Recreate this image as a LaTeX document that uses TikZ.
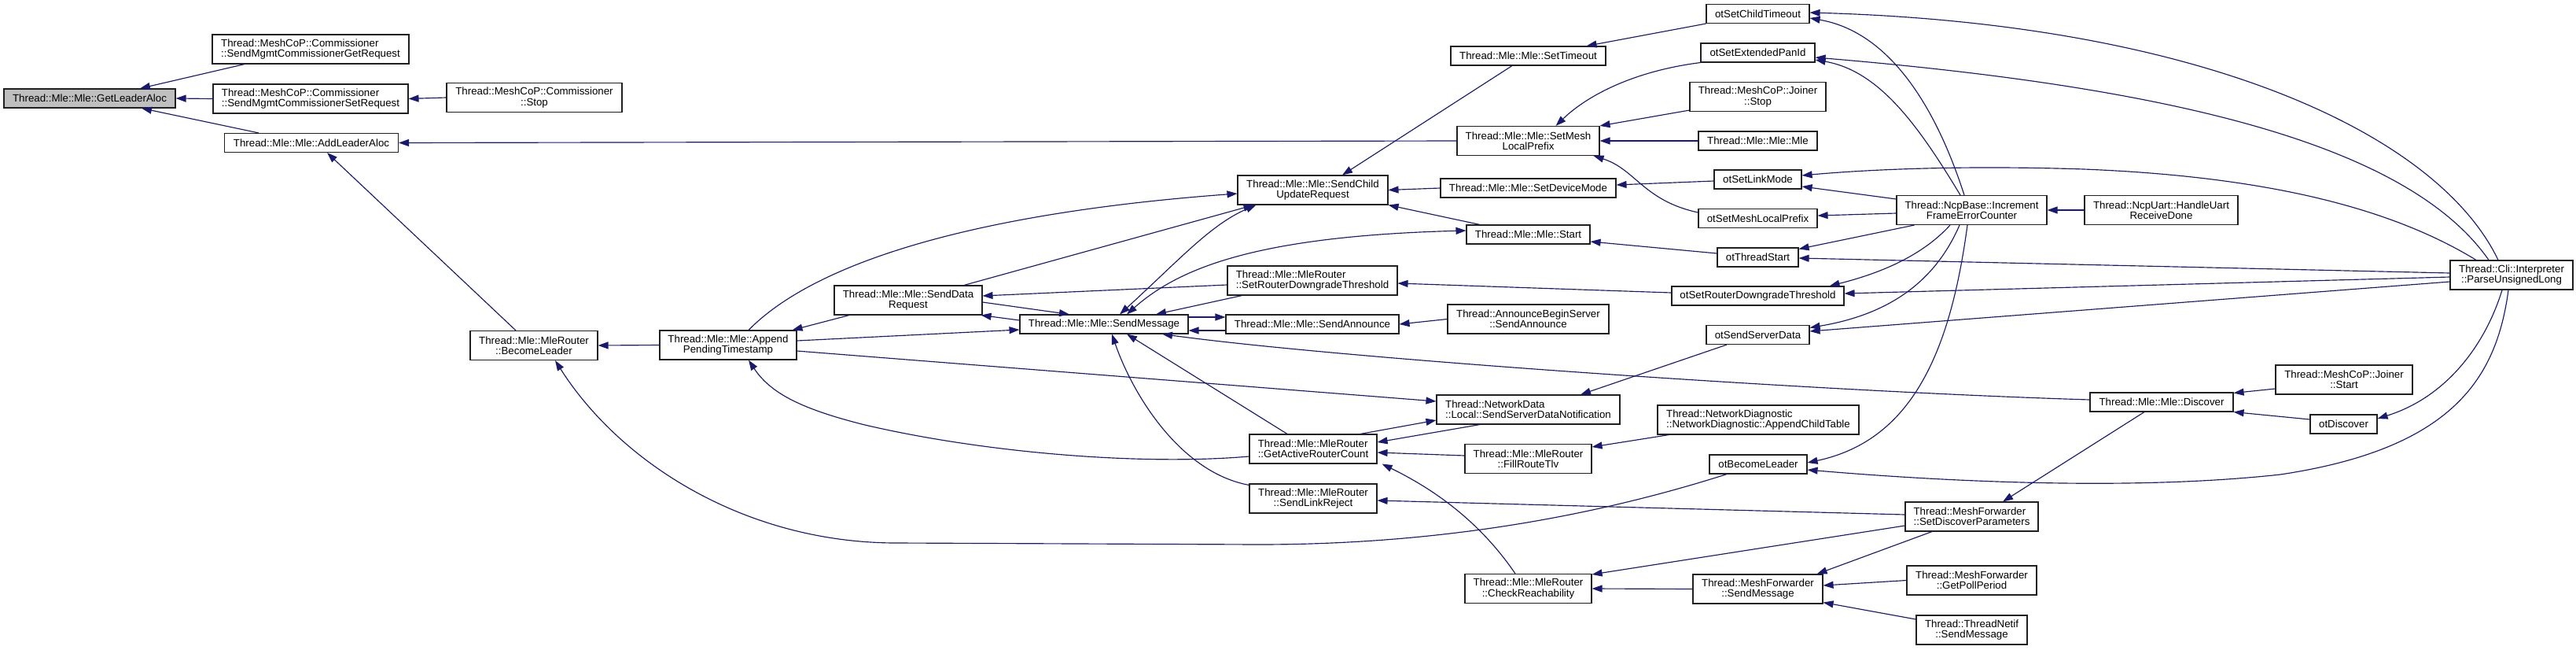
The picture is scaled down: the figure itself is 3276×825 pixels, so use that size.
\documentclass[tikz,border=0pt]{standalone}
\usepackage{fontspec}
\setmainfont{Liberation Sans}
\usetikzlibrary{arrows.meta}
\definecolor{edgeblue}{HTML}{191970}
\definecolor{hl}{HTML}{BFBFBF}
\definecolor{bord}{HTML}{202020}
\begin{document}
\begin{tikzpicture}[x=1pt,y=-1pt,
  box/.style={draw=bord, line width=1.1pt, fill=white, inner sep=0pt, align=center,
    font=\fontsize{13.3}{13.3}\selectfont, minimum height=24pt},
  tall/.style={minimum height=37pt},
  lft/.style={align=left},
  e/.style={draw=edgeblue, line width=1.15pt, -{Triangle[length=13pt,width=9pt]}},
  ee/.style={draw=edgeblue, line width=1.15pt, {Triangle[length=13pt,width=9pt]}-{Triangle[length=13pt,width=9pt]}}]
\fill[white] (0,0) rectangle (3276,825);
\useasboundingbox (0,0) rectangle (3276,825);

% ---- nodes ----
\node[box, fill=hl, minimum width=218pt] (n01) at (114,125) {Thread::Mle::Mle::GetLeaderAloc};
\node[box, tall, lft, minimum width=250pt] (n02) at (395,62.5) {Thread::MeshCoP::Commissioner\\::SendMgmtCommissionerGetRequest};
\node[box, tall, lft, minimum width=248pt] (n03) at (395,125.5) {Thread::MeshCoP::Commissioner\\::SendMgmtCommissionerSetRequest};
\node[box, tall, minimum width=223pt] (n04) at (679.5,124) {Thread::MeshCoP::Commissioner\\::Stop};
\node[box, minimum width=221pt] (n05) at (396,181.5) {Thread::Mle::Mle::AddLeaderAloc};
\node[box, tall, minimum width=162pt] (n06) at (679,439) {Thread::Mle::MleRouter\\::BecomeLeader};
\node[box, tall, minimum width=174pt] (n07) at (926,438.5) {Thread::Mle::Mle::Append\\PendingTimestamp};
\node[box, tall, minimum width=188pt] (n08) at (1155,381.5) {Thread::Mle::Mle::SendData\\Request};
\node[box, minimum width=214pt] (n09) at (1404,412) {Thread::Mle::Mle::SendMessage};
\node[box, tall, minimum width=191pt] (n10) at (1669.5,241.5) {Thread::Mle::Mle::SendChild\\UpdateRequest};
\node[box, tall, lft, minimum width=216pt] (n11) at (1669,356.5) {Thread::Mle::MleRouter\\::SetRouterDowngradeThreshold};
\node[box, minimum width=220pt] (n12) at (1669,412) {Thread::Mle::Mle::SendAnnounce};
\node[box, tall, lft, minimum width=162pt] (n13) at (1670,570.5) {Thread::Mle::MleRouter\\::GetActiveRouterCount};
\node[box, tall, minimum width=162pt] (n14) at (1670,633.5) {Thread::Mle::MleRouter\\::SendLinkReject};
\node[box, minimum width=197pt] (n15) at (1943.5,71) {Thread::Mle::Mle::SetTimeout};
\node[box, tall, minimum width=181pt] (n16) at (1943.5,179) {Thread::Mle::Mle::SetMesh\\LocalPrefix};
\node[box, minimum width=223pt] (n17) at (1943.5,239) {Thread::Mle::Mle::SetDeviceMode};
\node[box, minimum width=157pt] (n18) at (1943.5,298) {Thread::Mle::Mle::Start};
\node[box, tall, minimum width=205pt] (n19) at (1943.5,405.5) {Thread::AnnounceBeginServer\\::SendAnnounce};
\node[box, tall, lft, minimum width=233pt] (n20) at (1943.5,520.5) {Thread::NetworkData\\::Local::SendServerDataNotification};
\node[box, tall, minimum width=161pt] (n21) at (1943.5,583) {Thread::Mle::MleRouter\\::FillRouteTlv};
\node[box, tall, minimum width=161pt] (n22) at (1943.5,748) {Thread::Mle::MleRouter\\::CheckReachability};
\node[box, minimum width=131pt] (n23) at (2235.5,17.5) {otSetChildTimeout};
\node[box, minimum width=145pt] (n24) at (2235.5,67) {otSetExtendedPanId};
\node[box, tall, minimum width=173pt] (n25) at (2235.5,123) {Thread::MeshCoP::Joiner\\::Stop};
\node[box, minimum width=151pt] (n26) at (2235.5,179) {Thread::Mle::Mle::Mle};
\node[box, minimum width=111pt] (n27) at (2235.5,228) {otSetLinkMode};
\node[box, minimum width=151pt] (n28) at (2235.5,277.5) {otSetMeshLocalPrefix};
\node[box, minimum width=103pt] (n29) at (2235.5,327) {otThreadStart};
\node[box, minimum width=219pt] (n30) at (2235.5,376) {otSetRouterDowngradeThreshold};
\node[box, minimum width=131pt] (n31) at (2235.5,425.5) {otSendServerData};
\node[box, tall, lft, minimum width=256pt] (n32) at (2236,533.5) {Thread::NetworkDiagnostic\\::NetworkDiagnostic::AppendChildTable};
\node[box, minimum width=124pt] (n33) at (2236,590) {otBecomeLeader};
\node[box, tall, minimum width=165pt] (n34) at (2235.5,748.5) {Thread::MeshForwarder\\::SendMessage};
\node[box, tall, minimum width=191pt] (n35) at (2507.5,267) {Thread::NcpBase::Increment\\FrameErrorCounter};
\node[box, tall, minimum width=195pt] (n36) at (2748.5,267) {Thread::NcpUart::HandleUart\\ReceiveDone};
\node[box, minimum width=182pt] (n37) at (2749,511) {Thread::Mle::Mle::Discover};
\node[box, tall, lft, minimum width=169pt] (n38) at (2507.5,656.5) {Thread::MeshForwarder\\::SetDiscoverParameters};
\node[box, tall, minimum width=165pt] (n39) at (2507.5,737.5) {Thread::MeshForwarder\\::GetPollPeriod};
\node[box, tall, minimum width=141pt] (n40) at (2507.5,800.5) {Thread::ThreadNetif\\::SendMessage};
\node[box, tall, minimum width=174pt] (n41) at (2981,482.5) {Thread::MeshCoP::Joiner\\::Start};
\node[box, minimum width=85pt] (n42) at (2980.5,539) {otDiscover};
\node[box, tall, minimum width=156pt] (n43) at (3194,349.5) {Thread::Cli::Interpreter\\::ParseUnsignedLong};

% ---- edges: left part ----
\draw[e] ([xshift=-84pt]n02.south) -- ([xshift=64pt]n01.north);
\draw[e] (n03.west) -- (n01.east);
\draw[e] ([xshift=-67pt]n05.north) -- ([xshift=66pt]n01.south);
\draw[e] (n04.west) -- (n03.east);
\draw[e] (n16.west) -- (n05.east);
\draw[e] ([xshift=-23pt]n06.north) -- ([xshift=20pt]n05.south);
\draw[e] (n07.west) -- (n06.east);
\draw[e] ([xshift=-40pt]n33.south) .. controls (2000,665) and (1800,692) .. (1600,692) -- (1140,690) .. controls (950,690) and (790,590) .. ([xshift=27pt]n06.south);

% ---- Append / SendData / SendMessage ----
\draw[e] ([xshift=-75pt]n08.south) -- ([xshift=-6pt]n07.north east);
\draw[e] ([xshift=26pt]n07.north) .. controls (1040,330) and (1250,270) .. ([yshift=-4.5pt]n10.west);
\draw[e] ([xshift=71pt]n08.north) -- ([xshift=21pt]n10.south west);
\draw[ee] ([xshift=-72pt]n10.south) .. controls (1540,285) and (1500,330) .. ([xshift=20pt]n09.north);
\draw[ee] ([xshift=29pt]n09.north) .. controls (1500,340) and (1600,300) .. ([yshift=5pt]n18.west);
\draw[e] ([yshift=-2.5pt]n08.east) -- ([xshift=-44pt]n09.north);
\draw[e] ([yshift=5pt]n09.west) -- ([xshift=-2pt]n08.south east);
\draw[e] ([yshift=5.5pt]n07.east) -- ([yshift=-7pt]n09.west);
\draw[e] ([yshift=-5.5pt]n11.west) -- ([yshift=5.5pt]n08.east);
\draw[e] ([xshift=19pt]n11.south west) -- ([xshift=66pt]n09.north);
\draw[e] ([yshift=9pt]n09.east) -- ([yshift=9pt]n12.west);
\draw[e] ([yshift=-8pt]n12.west) -- ([yshift=-8pt]n09.east);
\draw[e] ([yshift=3pt]n37.west) .. controls (2300,497) and (1700,455) .. ([xshift=74pt]n09.south);
\draw[e] ([yshift=-2pt]n14.north west) .. controls (1500,600) and (1440,500) .. ([xshift=10pt]n09.south);
\draw[e] ([xshift=-33pt]n13.north) -- ([xshift=29pt]n09.south);
\draw[e] ([yshift=-7.5pt]n07.east) -- ([yshift=10.5pt]n20.west);
\draw[e] ([yshift=-9.5pt]n13.west) .. controls (1450,592) and (1250,575) .. (1100,540) .. controls (1020,520) and (980,500) .. ([xshift=26pt]n07.south);

% ---- middle ----
\draw[e] ([xshift=-39.5pt]n31.south) -- ([xshift=66.5pt]n20.north);
\draw[e] ([xshift=60pt]n13.north) -- ([yshift=-13.5pt]n20.west);
\draw[e] ([xshift=-61.5pt]n20.south) -- ([yshift=8.5pt]n13.east);
\draw[e] ([yshift=4pt]n21.west) -- ([yshift=-4.5pt]n13.east);
\draw[e] ([xshift=15pt]n32.south west) -- ([yshift=15pt]n21.east);
\draw[e] ([xshift=-16.5pt]n22.north) .. controls (1880,660) and (1820,620) .. ([xshift=6pt]n13.south east);
\draw[e] ([yshift=2.5pt]n38.west) -- ([yshift=-2.5pt]n14.east);
\draw[e] ([yshift=-11.5pt]n38.west) -- ([yshift=18pt]n22.east);
\draw[e] (n34.west) -- (n22.east);
\draw[e] ([xshift=-50.5pt]n38.south) -- ([xshift=-8pt]n34.north east);
\draw[e] (n39.west) -- ([yshift=4.5pt]n34.east);
\draw[e] ([yshift=13.5pt]n40.west) -- ([yshift=2pt]n34.south east);
\draw[e] ([xshift=-22pt]n37.south) -- ([xshift=39.5pt]n38.north);
\draw[e] ([yshift=-11.5pt]n41.west) -- ([yshift=-1pt]n37.north east);
\draw[e] ([yshift=6pt]n42.west) -- (n37.south east);

% ---- SetMeshLocalPrefix / SCUR group ----
\draw[e] (n24.south west) .. controls (2080,90) and (2020,120) .. ([xshift=35pt]n16.north);
\draw[e] ([yshift=2pt]n25.south west) -- (n16.north east);
\draw[e] (n26.west) -- (n16.east);
\draw[e] ([yshift=7.5pt]n28.west) .. controls (2090,255) and (2080,215) .. ([xshift=-8pt]n16.south east);
\draw[e] ([xshift=-20.5pt]n15.south) -- ([xshift=37.5pt]n10.north);
\draw[e] (n23.south west) -- ([xshift=74pt]n15.north);
\draw[e] (n17.west) -- (n10.east);
\draw[e] ([yshift=-2pt]n27.west) -- ([yshift=4pt]n17.east);
\draw[e] ([xshift=-61.5pt]n18.north) -- (n10.south east);
\draw[e] ([yshift=5pt]n29.west) -- ([yshift=-9pt]n18.east);
\draw[e] ([yshift=4pt]n30.west) -- ([yshift=-3.5pt]n11.east);
\draw[e] (n19.west) -- (n12.east);

% ---- IncrementFrameErrorCounter ----
\draw[e] (n36.west) -- (n35.east);
\draw[e] ([xshift=-9.5pt]n35.north) .. controls (2460,130) and (2400,40) .. ([yshift=-5.5pt]n23.east);
\draw[e] ([xshift=-14.5pt]n35.north) .. controls (2440,160) and (2390,90) .. ([yshift=-9pt]n24.east);
\draw[e] ([yshift=14pt]n35.west) -- ([yshift=-9pt]n27.east);
\draw[e] ([yshift=-4pt]n35.west) -- ([yshift=3.5pt]n28.east);
\draw[e] ([xshift=23pt]n35.south west) -- ([yshift=-2pt]n29.north east);
\draw[e] ([xshift=-27.5pt]n35.south) .. controls (2440,330) and (2380,350) .. ([xshift=-19pt]n30.north east);
\draw[e] ([xshift=-15.5pt]n35.south) .. controls (2460,360) and (2400,400) .. ([yshift=-3.5pt]n31.north east);
\draw[e] ([xshift=-5.5pt]n35.south) .. controls (2480,450) and (2430,560) .. ([yshift=2pt]n33.east);

% ---- ParseUnsignedLong ----
\draw[e] ([xshift=-12pt]n43.south) .. controls (3160,440) and (3110,505) .. ([yshift=7pt]n42.east);
\draw[e] ([xshift=-4pt]n43.south) .. controls (3175,480) and (3120,570) .. (2900,603) .. controls (2700,625) and (2450,610) .. ([yshift=-7pt]n33.east);
\draw[e] ([yshift=-8.5pt]n43.west) -- ([yshift=4.5pt]n31.east);
\draw[e] ([yshift=-2.5pt]n43.west) -- ([yshift=3pt]n30.east);
\draw[e] ([yshift=2.5pt]n43.west) -- ([yshift=-1pt]n29.east);
\draw[e] ([xshift=-45pt]n43.north) .. controls (3050,270) and (2900,225) .. (2650,215) .. controls (2500,210) and (2380,215) .. ([yshift=5pt]n27.east);
\draw[e] ([xshift=-29pt]n43.north) .. controls (3060,180) and (2750,110) .. ([yshift=-6pt]n24.east);
\draw[e] ([xshift=-17pt]n43.north) .. controls (3100,170) and (2800,30) .. ([yshift=1.5pt]n23.east);
\end{tikzpicture}
\end{document}
